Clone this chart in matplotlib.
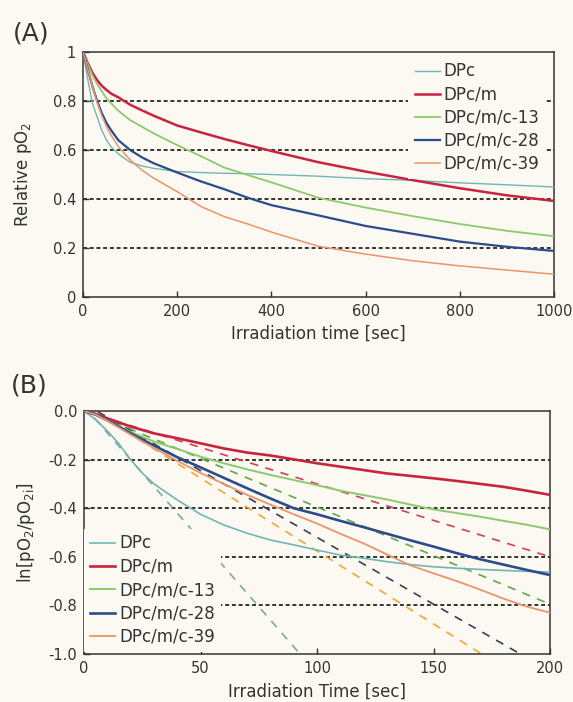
import numpy as np
import matplotlib
matplotlib.use('Agg')
import matplotlib.pyplot as plt

# ---- data ----
labels = ['DPc', 'DPc/m', 'DPc/m/c-13', 'DPc/m/c-28', 'DPc/m/c-39']

# (A) relative pO2 vs irradiation time
t_a = [0, 10, 20, 30, 40, 50, 60, 75, 100, 125, 150, 200, 250, 300, 350, 400,
       500, 600, 700, 800, 900, 1000]
dpc_a = [1.0, 0.89, 0.79, 0.735, 0.68, 0.64, 0.612, 0.584, 0.55, 0.535, 0.525, 0.512,
         0.508, 0.505, 0.503, 0.50, 0.493, 0.483, 0.476, 0.466, 0.458, 0.449]
dpcm_a = [1.0, 0.955, 0.915, 0.885, 0.862, 0.845, 0.83, 0.815, 0.785, 0.762, 0.74, 0.70,
          0.672, 0.645, 0.62, 0.596, 0.55, 0.512, 0.477, 0.444, 0.415, 0.392]
c13_a = [1.0, 0.95, 0.905, 0.87, 0.84, 0.81, 0.79, 0.76, 0.722, 0.695, 0.668, 0.62,
         0.575, 0.528, 0.498, 0.468, 0.405, 0.365, 0.33, 0.298, 0.27, 0.248]
c28_a = [1.0, 0.93, 0.86, 0.80, 0.75, 0.71, 0.68, 0.64, 0.60, 0.57, 0.546, 0.508,
         0.472, 0.44, 0.405, 0.375, 0.333, 0.29, 0.258, 0.226, 0.205, 0.188]
c39_a = [1.0, 0.93, 0.86, 0.795, 0.74, 0.695, 0.66, 0.614, 0.56, 0.518, 0.485, 0.43,
         0.37, 0.328, 0.298, 0.265, 0.207, 0.175, 0.148, 0.127, 0.11, 0.093]

# (B) ln[pO2/pO2i] vs irradiation time
t_b = [0, 5, 10, 15, 20, 25, 30, 40, 50, 60, 70, 80, 90, 100, 110, 120, 130, 140,
       150, 160, 170, 180, 190, 200]
dpc_b = [0, -0.035, -0.082, -0.135, -0.2, -0.255, -0.3, -0.366, -0.425, -0.469, -0.503,
         -0.531, -0.551, -0.572, -0.593, -0.606, -0.62, -0.632, -0.641, -0.647, -0.652,
         -0.656, -0.66, -0.663]
dpcm_b = [0, -0.012, -0.03, -0.047, -0.064, -0.078, -0.092, -0.112, -0.133, -0.154,
          -0.171, -0.183, -0.199, -0.215, -0.229, -0.243, -0.257, -0.267, -0.277, -0.288,
          -0.30, -0.312, -0.328, -0.345]
c13_b = [0, -0.015, -0.037, -0.062, -0.085, -0.106, -0.126, -0.156, -0.188, -0.215,
         -0.24, -0.263, -0.284, -0.305, -0.328, -0.346, -0.364, -0.385, -0.405, -0.42,
         -0.435, -0.452, -0.468, -0.487]
c28_b = [0, -0.015, -0.038, -0.065, -0.092, -0.117, -0.142, -0.19, -0.232, -0.275,
         -0.318, -0.36, -0.40, -0.425, -0.452, -0.478, -0.505, -0.532, -0.558, -0.585,
         -0.61, -0.632, -0.654, -0.675]
c39_b = [0, -0.015, -0.04, -0.068, -0.097, -0.125, -0.152, -0.205, -0.255, -0.30,
         -0.345, -0.385, -0.425, -0.463, -0.505, -0.545, -0.59, -0.635, -0.668, -0.70,
         -0.735, -0.772, -0.805, -0.83]

# linear fits in (B): intercept, slope
fit_icpt = [0.02, 0.0, 0.005, 0.03, 0.024]
fit_slope = [-0.011, -0.003, -0.004, -0.0055, -0.006]

# ---- style ----
bg = '#fbf9f2'
ink = '#333333'
colors = ['#72b6b4', '#c8233f', '#8dc96a', '#2d4b8a', '#e9946a']
fit_colors = ['#7fa8a0', '#d2404f', '#5faa45', '#3a3f55', '#f0a830']
lw_a = [1.0, 1.8, 1.3, 1.6, 1.1]
lw_b = [1.2, 1.9, 1.4, 1.9, 1.3]

plt.rcParams['font.family'] = 'DejaVu Sans'
plt.rcParams['mathtext.fontset'] = 'dejavusans'

fig = plt.figure(figsize=(5.73, 7.02), dpi=100, facecolor=bg)
ax_a = fig.add_axes([83 / 573, 1 - 297 / 702, 471 / 573, 245 / 702])
ax_b = fig.add_axes([84 / 573, 1 - 654 / 702, 466 / 573, 243 / 702])


def style_axes(ax):
    ax.set_facecolor(bg)
    for s in ax.spines.values():
        s.set_color(ink)
        s.set_linewidth(1.1)
    ax.tick_params(direction='in', length=4, width=1, color=ink,
                   labelsize=10.5, labelcolor=ink, pad=5)


# ---- panel A ----
style_axes(ax_a)
for y in [0.2, 0.4, 0.6, 0.8]:
    ax_a.axhline(y, color='black', lw=1.1, ls=(0, (2.6, 1.8)), zorder=1)
series_a = [dpc_a, dpcm_a, c13_a, c28_a, c39_a]
for vals, c, lw, lab in zip(series_a, colors, lw_a, labels):
    ax_a.plot(t_a, vals, color=c, lw=lw, label=lab, zorder=3)
ax_a.set_xlim(0, 1000)
ax_a.set_ylim(0, 1)
ax_a.set_xticks([0, 200, 400, 600, 800, 1000])
ax_a.set_yticks([0, 0.2, 0.4, 0.6, 0.8, 1.0], ['0', '0.2', '0.4', '0.6', '0.8', '1'])
ax_a.set_xlabel('Irradiation time [sec]', fontsize=12, color=ink)
ax_a.set_ylabel('Relative pO$_2$', fontsize=12, color=ink)
ax_a.xaxis.set_label_coords(0.5, -0.115)
ax_a.yaxis.set_label_coords(-0.104, 0.5)
leg = ax_a.legend(loc='upper left', bbox_to_anchor=(0.69, 0.985), fontsize=12,
                  frameon=True, framealpha=1, facecolor=bg, edgecolor='none',
                  handlelength=1.5, handletextpad=0.25, labelspacing=0.3,
                  borderpad=0.4, borderaxespad=0, fancybox=False)
leg.set_zorder(5)
for txt in leg.get_texts():
    txt.set_color(ink)

# ---- panel B ----
style_axes(ax_b)
for y in [-0.2, -0.4, -0.6, -0.8]:
    ax_b.axhline(y, color='black', lw=1.1, ls=(0, (2.6, 1.8)), zorder=1)
t_fit = np.array([0, 200])
for b0, k, c in zip(fit_icpt, fit_slope, fit_colors):
    ax_b.plot(t_fit, b0 + k * t_fit, color=c, lw=1.2, ls=(0, (5, 4.5)), zorder=2)
series_b = [dpc_b, dpcm_b, c13_b, c28_b, c39_b]
for vals, c, lw, lab in zip(series_b, colors, lw_b, labels):
    ax_b.plot(t_b, vals, color=c, lw=lw, label=lab, zorder=3)
ax_b.set_xlim(0, 200)
ax_b.set_ylim(-1.0, 0.0)
ax_b.set_xticks([0, 50, 100, 150, 200])
ax_b.set_yticks([0, -0.2, -0.4, -0.6, -0.8, -1.0],
                ['0.0', '-0.2', '-0.4', '-0.6', '-0.8', '-1.0'])
ax_b.set_xlabel('Irradiation Time [sec]', fontsize=12, color=ink)
ax_b.set_ylabel('ln[pO$_2$/pO$_{2\\mathrm{i}}$]', fontsize=12, color=ink)
ax_b.xaxis.set_label_coords(0.5, -0.118)
ax_b.yaxis.set_label_coords(-0.1, 0.5)
leg = ax_b.legend(loc='lower left', bbox_to_anchor=(0.0, 0.01), fontsize=12,
                  frameon=True, framealpha=1, facecolor=bg, edgecolor='none',
                  handlelength=1.5, handletextpad=0.25, labelspacing=0.32,
                  borderpad=0.35, borderaxespad=0, fancybox=False)
leg.set_zorder(5)
for txt in leg.get_texts():
    txt.set_color(ink)

# panel tags
fig.text(31 / 573, 1 - 34 / 702, '(A)', fontsize=18, ha='center', va='center', color=ink)
fig.text(29 / 573, 1 - 386 / 702, '(B)', fontsize=18, ha='center', va='center', color=ink)

fig.savefig('out.png', dpi=100, facecolor=bg)
